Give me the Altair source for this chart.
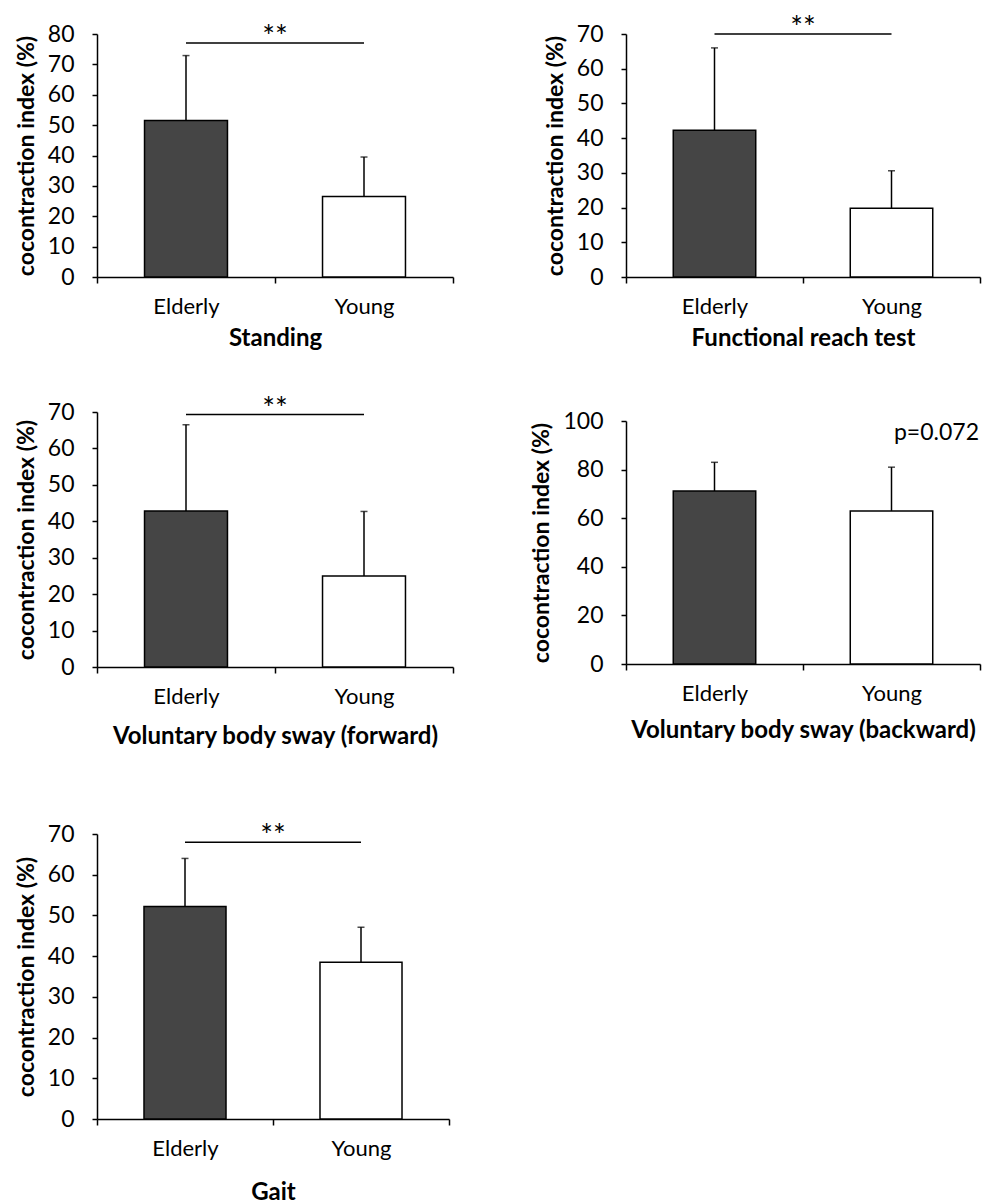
import altair as alt
import pandas as pd

groups = ["Elderly", "Young"]
group_pos = [0.5, 1.5]

# means and SD (upper error bar length)
standing_mean = [51.5, 26.5]
standing_sd = [21.4, 13.0]
frt_mean = [42.3, 19.8]
frt_sd = [23.7, 10.8]
fwd_mean = [42.8, 25.0]
fwd_sd = [23.7, 17.7]
bwd_mean = [71.2, 63.0]
bwd_sd = [11.8, 18.0]
gait_mean = [52.2, 38.5]
gait_sd = [11.8, 8.6]

# significance annotations (bracket level, label)
standing_sig = (77.0, "**")
frt_sig = (70.0, "**")
fwd_sig = (69.3, "**")
gait_sig = (68.0, "**")
bwd_note = (95.0, "p=0.072")

FONT = "Lato"
BAR_COLORS = ["#454545", "#ffffff"]


def panel(name, means, sds, ymax, step, width, height, title_pad,
          sig=None, note=None, yrange=None):
    df = pd.DataFrame({"group": groups, "pos": group_pos,
                       "mean": means, "sd": sds})
    base = alt.Chart(df).transform_calculate(
        top="datum.mean + datum.sd",
        x0="datum.pos - 0.233",
        x1="datum.pos + 0.233",
    )
    if yrange is not None:
        yscale = alt.Scale(domain=[0, ymax], nice=False, zero=True, range=yrange)
    else:
        yscale = alt.Scale(domain=[0, ymax], nice=False, zero=True)
    xscale = alt.Scale(domain=[0, 2], nice=False, zero=False)
    xaxis = alt.Axis(
        values=[0, 0.5, 1, 1.5, 2],
        labelExpr="datum.value == 0.5 ? 'Elderly' : (datum.value == 1.5 ? 'Young' : '')",
        tickOpacity={"condition": {"test": "datum.value % 1 === 0", "value": 1}, "value": 0},
        title=name, titleFontWeight="bold", titleFontSize=24, titlePadding=title_pad,
        labelFontSize=22, labelPadding=13, tickSize=6, grid=False,
        labelFont=FONT, titleFont=FONT, labelAngle=0,
    )
    yaxis = alt.Axis(
        values=list(range(0, ymax + 1, step)),
        title="cocontraction index (%)", titleFontWeight="bold", titleFontSize=23,
        titlePadding=9, labelFontSize=23, labelPadding=18, tickSize=5,
        grid=False, labelFont=FONT, titleFont=FONT,
    )

    def X(field):
        return alt.X(field, scale=xscale, axis=xaxis)

    def Y(field):
        return alt.Y(field, scale=yscale, axis=yaxis)

    bars = base.mark_bar(stroke="black", strokeWidth=1.5).encode(
        x=X("x0:Q"),
        x2="x1:Q",
        y=Y("mean:Q"),
        y2=alt.datum(0),
        fill=alt.Fill("group:N", scale=alt.Scale(domain=groups, range=BAR_COLORS), legend=None),
    )
    err = base.mark_rule(color="black", strokeWidth=1.5).encode(
        x=X("pos:Q"), y=Y("mean:Q"), y2="top:Q")
    cap = base.mark_tick(orient="horizontal", size=7, thickness=1.5, color="black").encode(
        x=X("pos:Q"), y=Y("top:Q"))
    layers = [bars, err, cap]
    if sig is not None:
        sdf = pd.DataFrame({"start": [group_pos[0]], "end": [group_pos[1]],
                            "level": [sig[0]], "label": [sig[1]]})
        line = alt.Chart(sdf).mark_rule(color="black", strokeWidth=1.5).encode(
            x=X("start:Q"), x2="end:Q", y=Y("level:Q"))
        star = alt.Chart(sdf).transform_calculate(mid="(datum.start + datum.end) / 2").mark_text(
            font=FONT, fontSize=30, baseline="bottom", dy=10, color="black").encode(
            x=X("mid:Q"), y=Y("level:Q"), text="label:N")
        layers += [line, star]
    if note is not None:
        ndf = pd.DataFrame({"xpos": [2.0], "level": [note[0]], "label": [note[1]]})
        txt = alt.Chart(ndf).mark_text(font=FONT, fontSize=23, align="right",
                                       baseline="middle", dx=-1, color="black").encode(
            x=X("xpos:Q"), y=Y("level:Q"), text="label:N")
        layers.append(txt)
    return alt.layer(*layers).properties(width=width, height=height)


p1 = panel("Standing", standing_mean, standing_sd, 80, 10, 356, 243, 9, sig=standing_sig)
p2 = panel("Functional reach test", frt_mean, frt_sd, 70, 10, 354, 243, 9, sig=frt_sig)
p3 = panel("Voluntary body sway (forward)", fwd_mean, fwd_sd, 70, 10, 356, 255, 17, sig=fwd_sig)
p4 = panel("Voluntary body sway (backward)", bwd_mean, bwd_sd, 100, 20, 354, 252, 14,
           note=bwd_note, yrange=[252, 9])
p5 = panel("Gait", gait_mean, gait_sd, 70, 10, 352, 317, 21, sig=gait_sig, yrange=[317, 32])

chart = alt.concat(
    p1, p2, p3, p4, p5, columns=2, align="each", bounds="flush",
    spacing={"row": 135, "column": 173},
).configure_view(stroke=None).configure_axis(
    domainColor="black", domainWidth=1.5, tickColor="black", tickWidth=1.5,
    labelColor="black", titleColor="black",
).properties(padding={"left": 15, "top": 14, "right": 5, "bottom": 5}, background="white")

chart.save("out.html", embed_options={"renderer": "svg", "actions": False})
